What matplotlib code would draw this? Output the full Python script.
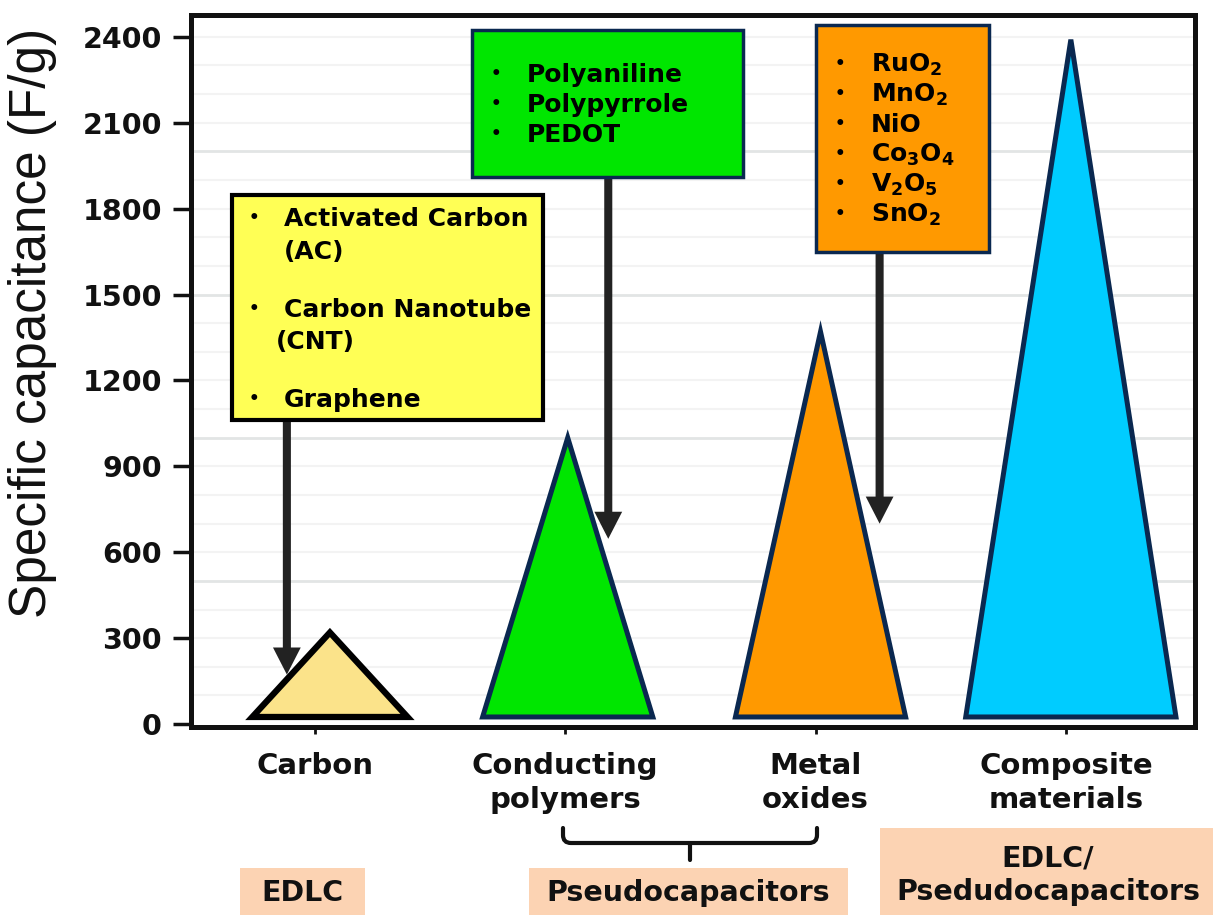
import matplotlib
matplotlib.use("Agg")
import matplotlib.pyplot as plt
from matplotlib.patches import Rectangle, PathPatch
from matplotlib.lines import Line2D
from matplotlib.path import Path

# データ
categories = ["Carbon", "Conducting\npolymers", "Metal\noxides", "Composite\nmaterials"]
peak_capacitance = [320, 1000, 1370, 2390]
base_level = 25
y_ticks = [0, 300, 600, 900, 1200, 1500, 1800, 2100, 2400]

fill_colors = ["#fbe38a", "#00e600", "#ff9900", "#00ccff"]
edge_colors = ["#000000", "#0a2850", "#0a2850", "#0a2850"]

carbon_items = ["Activated Carbon", "(AC)", "Carbon Nanotube", "(CNT)", "Graphene"]
polymer_items = ["Polyaniline", "Polypyrrole", "PEDOT"]
oxide_items = [r"RuO$_\mathbf{2}$", r"MnO$_\mathbf{2}$", "NiO",
               r"Co$_\mathbf{3}$O$_\mathbf{4}$", r"V$_\mathbf{2}$O$_\mathbf{5}$",
               r"SnO$_\mathbf{2}$"]
# 矢印 (x位置, 先端の値, 始点の値)
arrow_x = [-0.112, 1.172, 2.256]
arrow_tip = [173, 647, 700]
arrow_start = [1074, 1915, 1655]

W, H = 1213, 915
fig = plt.figure(figsize=(W / 100, H / 100), dpi=100)
ax = fig.add_axes([191 / W, 1 - 727 / H, (1195 - 191) / W, (727 - 15) / H])
ax.set_xlim(-0.495, 3.516)
ax.set_ylim(-10, 2476)


def fx(px):
    return px / W


def fy(py):
    return 1 - py / H


# 薄いグリッド
for g in range(100, 2500, 100):
    major = g % 500 == 0
    ax.axhline(g, color="#e2e5e5" if major else "#f3f3f3",
               lw=2.0 if major else 1.5, zorder=0)

# 三角形
widths = [0.62, 0.68, 0.68, 0.84]
offsets = [0.06, 0.01, 0.02, 0.02]
lws = [4.5, 3.6, 3.6, 3.6]
for i, h in enumerate(peak_capacitance):
    c = i + offsets[i]
    w = widths[i]
    ax.fill([c - w / 2, c, c + w / 2], [base_level, h, base_level],
            facecolor=fill_colors[i], edgecolor=edge_colors[i], lw=lws[i],
            joinstyle="miter", zorder=3)

# 軸
for side in ["left", "right", "top", "bottom"]:
    ax.spines[side].set_linewidth(3.6)
    ax.spines[side].set_color("#111111")
ax.tick_params(axis="y", length=13, width=2.5, pad=8, color="#111111",
               labelsize=20.5)
ax.tick_params(axis="x", length=5, width=2, pad=13, color="#111111",
               labelsize=21)
ax.set_yticks(y_ticks)
ax.set_yticklabels([str(t) for t in y_ticks])
ax.set_xticks(range(len(categories)))
ax.set_xticklabels(categories, linespacing=1.25)
for lbl in ax.get_yticklabels() + ax.get_xticklabels():
    lbl.set_fontweight("bold")
    lbl.set_color("#111111")

fig.text(fx(33), fy(323), "Specific capacitance (F/g)", rotation=90,
         ha="center", va="center", fontsize=37, family="Liberation Sans",
         color="#111111")

# 注釈ボックス
boxes = [
    (232, 195, 543, 420, "#ffff55", "#000000", 3.0),
    (472, 30, 743, 177, "#00e600", "#0a2850", 2.5),
    (816, 25, 989, 252, "#ff9900", "#0a2850", 2.5),
]
for x0, y0, x1, y1, fc, ec, lw in boxes:
    ax.add_patch(Rectangle((fx(x0), fy(y1)), (x1 - x0) / W, (y1 - y0) / H,
                           transform=fig.transFigure, facecolor=fc,
                           edgecolor=ec, lw=lw, zorder=5))

txt = dict(fontsize=18, fontweight="bold", va="baseline", ha="left",
           color="#000000", zorder=6)
bul = dict(fontsize=12, fontweight="bold", va="baseline", ha="center",
           color="#000000", zorder=6)

carbon_y = [217, 250, 308, 340, 398]
carbon_x = [284, 284, 284, 276, 284]
for s, yy, xx in zip(carbon_items, carbon_y, carbon_x):
    fig.text(fx(xx), fy(yy + 9), s, **txt)
for yy in [217, 308, 398]:
    fig.text(fx(254), fy(yy + 6), "•", **bul)

for k, s in enumerate(polymer_items):
    yy = 73 + 30 * k
    fig.text(fx(527), fy(yy + 9), s, **txt)
    fig.text(fx(496), fy(yy + 6), "•", **bul)

for k, s in enumerate(oxide_items):
    yy = 63 + 30 * k
    fig.text(fx(871), fy(yy + 9), s, **txt)
    fig.text(fx(840), fy(yy + 6), "•", **bul)

# 矢印
for xa, ya, y0 in zip(arrow_x, arrow_tip, arrow_start):
    ax.annotate("", xy=(xa, ya), xytext=(xa, y0),
                arrowprops=dict(facecolor="#222222", edgecolor="none",
                                width=5.8, headwidth=20, headlength=19.5,
                                shrink=0), zorder=4)

# 括弧 (角を丸める)
pts = [(563, 828), (563, 835), (563, 843), (571, 843), (809, 843),
       (817, 843), (817, 835), (817, 828)]
codes = [Path.MOVETO, Path.LINETO, Path.CURVE3, Path.CURVE3, Path.LINETO,
         Path.CURVE3, Path.CURVE3, Path.LINETO]
brace = Path([(fx(a), fy(b)) for a, b in pts], codes)
fig.add_artist(PathPatch(brace, transform=fig.transFigure, facecolor="none",
                         edgecolor="#111111", lw=3, capstyle="round"))
fig.add_artist(Line2D([fx(690), fx(690)], [fy(843), fy(860)], color="#111111",
                      lw=3, solid_capstyle="round"))

# 下部ラベル
labels = [
    (240, 868, 365, 915, "EDLC", 302, 893),
    (529, 868, 848, 915, "Pseudocapacitors", 688, 893),
    (880, 828, 1213, 915, "EDLC/\nPsedudocapacitors", 1048, 875),
]
for x0, y0, x1, y1, s, tx, ty in labels:
    fig.add_artist(Rectangle((fx(x0), fy(y1)), (x1 - x0) / W, (y1 - y0) / H,
                             transform=fig.transFigure, facecolor="#fcd3b3",
                             edgecolor="none"))
    fig.text(fx(tx), fy(ty), s, ha="center", va="center", fontsize=20.5,
             fontweight="bold", linespacing=1.25, color="#111111")

fig.savefig("out.png", dpi=100)
